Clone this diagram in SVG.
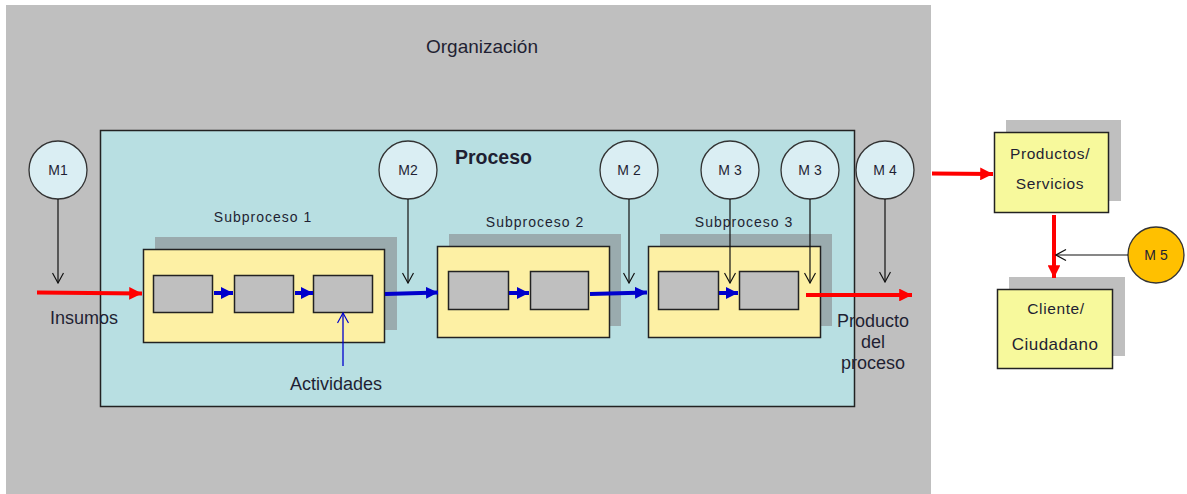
<svg xmlns="http://www.w3.org/2000/svg" width="1187" height="494" viewBox="0 0 1187 494">
<defs>
<style>
text{font-family:"Liberation Sans",Arial,sans-serif;fill:#1f1f33}
.m{fill:#daeef3;stroke:#333;stroke-width:1.3}
.shadow{fill:#9aabae}
.shadow2{fill:#bfbfbf}
.yel{fill:#fdf0a4;stroke:#222;stroke-width:1.5}
.yel2{fill:#f7f99c;stroke:#222;stroke-width:1.5}
.act{fill:#bfbfbf;stroke:#222;stroke-width:1.5}
.red{stroke:#ff0000;stroke-width:4;fill:none}
.blue{stroke:#0000cc;stroke-width:4;fill:none}
.blk{stroke:#111;stroke-width:1.2;fill:none}
.ml{font-size:14px;text-anchor:middle}
.sub{font-size:14px;text-anchor:middle;letter-spacing:1px}
.lbl{font-size:18px}
.box{font-size:15.5px;text-anchor:middle;letter-spacing:0.6px}
</style>
<marker id="ar" viewBox="0 0 10 10" refX="10" refY="5" markerWidth="3.2" markerHeight="3.2" orient="auto" markerUnits="strokeWidth"><path d="M0,0L10,5L0,10z" fill="#ff0000"/></marker>
<marker id="ab" viewBox="0 0 10 10" refX="10" refY="5" markerWidth="3" markerHeight="3" orient="auto" markerUnits="strokeWidth"><path d="M0,0L10,5L0,10z" fill="#0000cc"/></marker>
<marker id="ao" viewBox="0 0 12 12" refX="11" refY="6" markerWidth="12" markerHeight="12" orient="auto" markerUnits="userSpaceOnUse"><path d="M1,0.5L11,6L1,11.5" fill="none" stroke="#111" stroke-width="1.2"/></marker>
<marker id="aob" viewBox="0 0 12 12" refX="11" refY="6" markerWidth="12" markerHeight="12" orient="auto" markerUnits="userSpaceOnUse"><path d="M1,0.5L11,6L1,11.5" fill="none" stroke="#0000cc" stroke-width="1.2"/></marker>
</defs>
<rect width="1187" height="494" fill="#ffffff"/>
<g id="organizacion">
<rect x="6" y="5" width="925" height="489" fill="#bfbfbf"/>
<text x="482" y="53" font-size="19" text-anchor="middle">Organización</text>
</g>
<g id="proceso">
<rect x="100.5" y="130.5" width="754" height="276" fill="#b8dfe2" stroke="#222" stroke-width="1.5"/>
<text x="455" y="164" font-size="19.5" font-weight="bold">Proceso</text>
</g>
<g id="subproceso1">
<rect class="shadow" x="155" y="237" width="242" height="93"/>
<rect class="yel" x="143.5" y="249.5" width="241" height="93"/>
<rect class="act" x="153.5" y="275.5" width="59" height="37"/>
<rect class="act" x="234.5" y="275.5" width="59" height="37"/>
<rect class="act" x="313.5" y="275.5" width="59" height="37"/>
<text class="sub" x="263" y="222">Subproceso 1</text>
</g>
<g id="subproceso2">
<rect class="shadow" x="449" y="234" width="172" height="92"/>
<rect class="yel" x="437.5" y="246.5" width="172" height="91"/>
<rect class="act" x="448.5" y="271.5" width="60" height="38"/>
<rect class="act" x="530.5" y="271.5" width="58" height="38"/>
<text class="sub" x="535" y="227">Subproceso 2</text>
</g>
<g id="subproceso3">
<rect class="shadow" x="660" y="234" width="172" height="92"/>
<rect class="yel" x="648.5" y="246.5" width="172" height="91"/>
<rect class="act" x="658.5" y="271.5" width="60" height="38"/>
<rect class="act" x="739.5" y="271.5" width="59" height="38"/>
<text class="sub" x="744" y="227">Subproceso 3</text>
</g>
<g id="m1"><circle class="m" cx="58" cy="170" r="29"/><text class="ml" x="58" y="175">M1</text></g>
<g id="m2a"><circle class="m" cx="408" cy="170" r="29"/><text class="ml" x="408" y="175">M2</text></g>
<g id="m2b"><circle class="m" cx="629" cy="170" r="29"/><text class="ml" x="629" y="175">M 2</text></g>
<g id="m3a"><circle class="m" cx="730" cy="170" r="29"/><text class="ml" x="730" y="175">M 3</text></g>
<g id="m3b"><circle class="m" cx="810" cy="170" r="29"/><text class="ml" x="810" y="175">M 3</text></g>
<g id="m4"><circle class="m" cx="885" cy="170" r="29"/><text class="ml" x="885" y="175">M 4</text></g>
<g id="m5"><circle cx="1156" cy="255" r="28" fill="#ffc000" stroke="#333" stroke-width="1.3"/><text class="ml" x="1156" y="260">M 5</text></g>
<g id="productos">
<rect class="shadow2" x="1006" y="120" width="115" height="81"/>
<rect class="yel2" x="994.5" y="132.5" width="114" height="80"/>
<text class="box" x="1050" y="159">Productos/</text>
<text class="box" x="1050" y="189">Servicios</text>
</g>
<g id="cliente">
<rect class="shadow2" x="1009" y="277" width="116" height="79"/>
<rect class="yel2" x="997.5" y="289.5" width="115" height="79"/>
<text class="box" x="1056" y="314">Cliente/</text>
<text class="box" x="1055" y="350" style="font-size:17px;letter-spacing:0.5px">Ciudadano</text>
</g>
<g id="labels">
<text class="lbl" x="50" y="324">Insumos</text>
<text class="lbl" x="336" y="390" text-anchor="middle">Actividades</text>
<text class="lbl" x="873" y="327" text-anchor="middle">Producto</text>
<text class="lbl" x="873" y="348" text-anchor="middle">del</text>
<text class="lbl" x="873" y="369" text-anchor="middle">proceso</text>
</g>
<g id="connectors">
<path class="red" d="M37,292.5L142,293.5" marker-end="url(#ar)"/>
<path class="red" d="M806,295L912,295" marker-end="url(#ar)"/>
<path class="red" d="M932,173.5L993,174" marker-end="url(#ar)"/>
<path class="red" d="M1054,215L1054,278" marker-end="url(#ar)"/>
<path class="blue" d="M214,293L233,293" marker-end="url(#ab)"/>
<path class="blue" d="M295,293L313,293" marker-end="url(#ab)"/>
<path class="blue" d="M385,294L438,292.5" marker-end="url(#ab)"/>
<path class="blue" d="M509,293L529,293" marker-end="url(#ab)"/>
<path class="blue" d="M590,294L647,292.5" marker-end="url(#ab)"/>
<path class="blue" d="M719,293L738,293" marker-end="url(#ab)"/>
<path class="blk" d="M58,199L58,283" marker-end="url(#ao)"/>
<path class="blk" d="M408,199L408,283" marker-end="url(#ao)"/>
<path class="blk" d="M629,199L629,283" marker-end="url(#ao)"/>
<path class="blk" d="M730,199L730,283" marker-end="url(#ao)"/>
<path class="blk" d="M810,199L810,283" marker-end="url(#ao)"/>
<path class="blk" d="M885,199L885,282" marker-end="url(#ao)"/>
<path class="blk" d="M1128,255L1056,255" marker-end="url(#ao)"/>
<path d="M343,366L343,313" fill="none" stroke="#0000cc" stroke-width="1.3" marker-end="url(#aob)"/>
</g>
</svg>
